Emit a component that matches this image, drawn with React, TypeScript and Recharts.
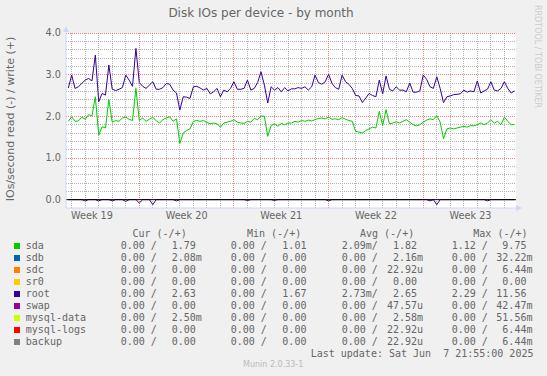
import React from 'react';
import { ComposedChart, Line, XAxis, YAxis, ReferenceLine, ReferenceDot, CartesianGrid } from 'recharts';

// time axis: days counted from the start of Week 20, one sample every 6 hours
const START_DAY = -5.25;
const STEP_DAYS = 0.25;
const X_MIN = -5.42;
const X_MAX = 27.86;
const Y_MIN = -0.2;
const Y_MAX = 4;

// IOs/second written (+)
const sdaWrite = [
  1.88, 1.99, 1.88, 1.89, 1.98, 1.93, 2.04, 2.01, 2.47, 1.55, 1.75, 1.72, 2.40, 1.86, 1.90, 1.88,
  1.96, 1.98, 1.93, 1.90, 2.67, 1.90, 1.96, 1.88, 1.93, 1.98, 1.89, 1.84, 1.92, 1.96, 1.99, 1.88,
  1.94, 1.35, 1.60, 1.66, 1.70, 1.88, 1.90, 1.88, 1.90, 1.85, 1.82, 1.84, 1.82, 1.74, 1.84, 1.86,
  1.88, 1.92, 1.86, 1.84, 1.83, 1.88, 1.86, 1.95, 1.92, 2.01, 2.00, 1.52, 1.78, 1.82, 1.76, 1.83,
  1.80, 1.84, 1.84, 1.88, 1.86, 1.90, 1.88, 1.91, 1.89, 1.92, 1.95, 1.96, 1.94, 1.98, 1.93, 1.94,
  1.92, 1.97, 1.93, 1.90, 1.88, 1.64, 1.62, 1.60, 1.66, 1.70, 1.74, 1.72, 2.12, 1.78, 2.16, 1.82,
  1.84, 1.87, 1.84, 1.88, 1.92, 1.86, 1.80, 1.77, 1.80, 1.86, 1.91, 1.94, 1.92, 2.02, 1.86, 1.46,
  1.70, 1.72, 1.70, 1.72, 1.74, 1.76, 1.74, 1.78, 1.77, 1.80, 1.84, 1.80, 1.84, 1.92, 1.84, 1.88,
  1.80, 1.98, 1.88, 1.80, 1.80,
];

const rootWrite = [
  2.68, 2.99, 2.67, 2.71, 2.79, 2.87, 2.91, 2.85, 3.47, 2.35, 2.55, 2.51, 3.23, 2.65, 2.62, 2.65,
  2.69, 2.99, 2.87, 2.72, 3.63, 2.81, 2.72, 2.67, 2.75, 2.83, 2.65, 2.65, 2.69, 2.79, 2.77, 2.63,
  2.56, 2.15, 2.47, 2.46, 2.43, 2.71, 2.72, 2.68, 2.63, 2.67, 2.54, 2.59, 2.67, 2.47, 2.63, 2.59,
  2.67, 2.83, 2.65, 2.65, 2.67, 2.87, 2.63, 2.67, 2.81, 3.07, 2.75, 2.32, 2.71, 2.63, 2.69, 2.59,
  2.69, 2.61, 2.66, 2.66, 2.69, 2.67, 2.71, 2.63, 2.71, 2.99, 2.81, 2.77, 2.83, 3.01, 2.79, 2.69,
  2.65, 2.99, 2.83, 2.77, 2.67, 2.50, 2.49, 2.33, 2.44, 2.55, 2.50, 2.47, 2.87, 2.54, 2.97, 2.65,
  2.61, 2.71, 2.63, 2.63, 2.59, 2.80, 2.58, 2.58, 2.61, 2.99, 2.89, 2.71, 2.67, 2.95, 2.67, 2.33,
  2.47, 2.49, 2.52, 2.53, 2.54, 2.63, 2.58, 2.61, 2.59, 2.85, 2.56, 2.61, 2.65, 2.83, 2.63, 2.61,
  2.67, 2.83, 2.67, 2.56, 2.61,
];

// IOs/second read (-): sample index and value of the small dips below zero
const rootReadDips: [number, number][] = [
  [5, -0.03], [9, -0.03], [13, -0.03], [17, -0.04], [21, -0.08], [25, -0.12], [32, -0.03],
  [53, -0.02], [61, -0.02], [77, -0.03], [107, -0.03], [109, -0.12], [124, -0.03],
];

const weekTicks = [-3.5, 3.5, 10.5, 17.5, 24.5];
const weekLabels = ['Week 19', 'Week 20', 'Week 21', 'Week 22', 'Week 23'];
const weekStarts = [0, 7, 14, 21];
const yTicks = [0, 1, 2, 3, 4];

const names = ['sda', 'sdb', 'sdc', 'sr0', 'root', 'swap', 'mysql-data', 'mysql-logs', 'backup'];
const colors = ['#00CC00', '#0066B3', '#FF8000', '#FFCC00', '#330099', '#990099', '#CCFF00', '#FF0000', '#808080'];
const curRead = ['0.00', '0.00', '0.00', '0.00', '0.00', '0.00', '0.00', '0.00', '0.00'];
const curWrite = ['1.79', '2.08m', '0.00', '0.00', '2.63', '0.00', '2.50m', '0.00', '0.00'];
const minRead = ['0.00', '0.00', '0.00', '0.00', '0.00', '0.00', '0.00', '0.00', '0.00'];
const minWrite = ['1.01', '0.00', '0.00', '0.00', '1.67', '0.00', '0.00', '0.00', '0.00'];
const avgRead = ['2.09m', '0.00', '0.00', '0.00', '2.73m', '0.00', '0.00', '0.00', '0.00'];
const avgWrite = ['1.82', '2.16m', '22.92u', '0.00', '2.65', '47.57u', '2.58m', '22.92u', '22.92u'];
const maxRead = ['1.12', '0.00', '0.00', '0.00', '2.29', '0.00', '0.00', '0.00', '0.00'];
const maxWrite = ['9.75', '32.22m', '6.44m', '0.00', '11.56', '42.47m', '51.56m', '6.44m', '6.44m'];

const data = sdaWrite.map((v, i) => {
  const dip = rootReadDips.find(d => d[0] === i);
  return { t: START_DAY + i * STEP_DAYS, sda: v, root: rootWrite[i], rootRead: dip ? dip[1] : 0 };
});

const dayLines = Array.from({ length: 33 }, (_, k) => k - 5).filter(d => !weekStarts.includes(d));
const minorY = Array.from({ length: 20 }, (_, k) => Math.round((0.2 + k * 0.2) * 10) / 10).filter(v => !yTicks.includes(v));

const FONT = '#666666';
const AXIS = '#CFD6F8';
const MINOR = '#B4B4B4';
const MAJOR = '#F08080';

// grid positions: x from the plot box (margins + y axis width), y from the y axis scale
const xPix = (p: any, vals: number[]) =>
  vals.map(v => {
    const o = p?.offset ?? { left: 66, width: 450 };
    return Math.round(o.left + ((v - X_MIN) / (X_MAX - X_MIN)) * o.width - 0.5) + 0.5;
  });
const yPix = (p: any, vals: number[]) =>
  vals.map(v => {
    const s = p?.yAxis?.scale;
    const py = typeof s === 'function' ? s(v) : p.offset.top + ((Y_MAX - v) / (Y_MAX - Y_MIN)) * p.offset.height;
    return Math.round(py - 0.5) + 0.5;
  });

// split "2.09m" into number and SI suffix
const splitVal = (s: string) => {
  const m = s.match(/^([\d.]+)(.*)$/);
  return m ? [m[1], m[2]] : [s, ''];
};
const readCell = (s: string) => {
  const [n, u] = splitVal(s);
  return n + (u || ' ') + '/';
};
const writeCell = (s: string) => {
  const [n, u] = splitVal(s);
  return n.padStart(6, ' ') + u;
};

const groups = [
  { head: 'Cur (-/+)', headX: 132.5, readX: 120.7, writeX: 159.7, read: curRead, write: curWrite },
  { head: 'Min (-/+)', headX: 247, readX: 230.7, writeX: 270.3, read: minRead, write: minWrite },
  { head: 'Avg (-/+)', headX: 360, readX: 341.7, writeX: 381, read: avgRead, write: avgWrite },
  { head: 'Max (-/+)', headX: 473.3, readX: 451.7, writeX: 490.3, read: maxRead, write: maxWrite },
];

const mono: React.CSSProperties = {
  position: 'absolute',
  fontFamily: '"DejaVu Sans Mono", monospace',
  fontSize: 10,
  lineHeight: '12px',
  whiteSpace: 'pre',
  color: FONT,
};

const YTick = (props: any) => (
  <text x={props.x} y={props.y} dy="0.355em" textAnchor="end" fontSize={9.7} fontFamily="DejaVu Sans" fill={FONT}>
    {props.payload.value.toFixed(1)}
  </text>
);

const XTick = (props: any) => (
  <text x={props.x} y={props.y} dy="0.71em" textAnchor="middle" fontSize={9.7} fontFamily="DejaVu Sans" fill={FONT}>
    {weekLabels[weekTicks.indexOf(props.payload.value)]}
  </text>
);

const App: React.FC = () => {
  return (
    <div style={{ position: 'absolute', left: 0, top: 0, width: 547, height: 376, background: '#F0F0F0', overflow: 'hidden' }}>
      <ComposedChart width={547} height={376} data={data} margin={{ top: 33, right: 31, left: 0, bottom: 148 }}>
        {/* minor grid: one line per day / every 0.2 */}
        <CartesianGrid
          fill="#FFFFFF"
          stroke={MINOR}
          strokeDasharray="1 1"
          verticalCoordinatesGenerator={(p: any) => xPix(p, dayLines)}
          horizontalCoordinatesGenerator={(p: any) => yPix(p, minorY)}
        />
        {/* major grid: week starts / whole numbers */}
        <CartesianGrid
          stroke={MAJOR}
          strokeDasharray="1 1"
          verticalCoordinatesGenerator={(p: any) => xPix(p, weekStarts)}
          horizontalCoordinatesGenerator={(p: any) => yPix(p, yTicks)}
        />
        <XAxis
          dataKey="t"
          type="number"
          domain={[X_MIN, X_MAX]}
          allowDataOverflow
          ticks={weekTicks}
          tick={<XTick />}
          tickLine={false}
          tickSize={0}
          tickMargin={4}
          height={20}
          axisLine={{ stroke: AXIS }}
        />
        <YAxis
          type="number"
          domain={[Y_MIN, Y_MAX]}
          allowDataOverflow
          ticks={yTicks}
          tick={<YTick />}
          tickLine={false}
          tickSize={0}
          tickMargin={5}
          width={66}
          axisLine={{ stroke: AXIS }}
        />

        <Line type="linear" dataKey="rootRead" stroke="#330099" strokeWidth={1} dot={false} isAnimationActive={false} />
        <Line type="linear" dataKey="sda" stroke="#00CC00" strokeWidth={1} dot={false} isAnimationActive={false} />
        <Line type="linear" dataKey="root" stroke="#330099" strokeWidth={1} dot={false} isAnimationActive={false} />
        <ReferenceLine y={0} stroke="#000000" strokeWidth={1} />

        {/* axis arrows */}
        <ReferenceDot
          x={X_MIN}
          y={Y_MAX}
          ifOverflow="visible"
          shape={(p: any) => (
            <path d={`M${p.cx - 3},${p.cy - 1} L${p.cx},${p.cy - 7} L${p.cx + 3},${p.cy - 1} Z`} fill={AXIS} />
          )}
        />
        <ReferenceDot
          x={X_MAX}
          y={Y_MIN}
          ifOverflow="visible"
          shape={(p: any) => (
            <path d={`M${p.cx},${p.cy - 3} L${p.cx + 6},${p.cy} L${p.cx},${p.cy + 3} Z`} fill={AXIS} />
          )}
        />
      </ComposedChart>

      <svg width={547} height={376} style={{ position: 'absolute', left: 0, top: 0, pointerEvents: 'none' }}>
        <text x={261} y={17.3} textAnchor="middle" fontFamily="DejaVu Sans" fontSize={12} fill={FONT}>
          Disk IOs per device - by month
        </text>
        <text transform="translate(14.3,119) rotate(-90)" textAnchor="middle" fontFamily="DejaVu Sans" fontSize={11} fill={FONT}>
          IOs/second read (-) / write (+)
        </text>
        <text transform="translate(535,5) rotate(90)" textAnchor="start" fontFamily="DejaVu Sans" fontSize={8} fill="#CCCCCC">
          RRDTOOL / TOBI OETIKER
        </text>
        <text x={273.2} y={367.2} textAnchor="middle" fontFamily="DejaVu Sans" fontSize={8} fill="#BBBBBB">
          Munin 2.0.33-1
        </text>
      </svg>

      {groups.map(g => (
        <div key={g.head} style={{ ...mono, left: g.headX, top: 227.5 }}>{g.head}</div>
      ))}
      {names.map((n, k) => {
        const top = 239.5 + k * 12;
        return (
          <React.Fragment key={n}>
            <div style={{ position: 'absolute', left: 14, top: top + 3, width: 6, height: 6, background: colors[k] }} />
            <div style={{ ...mono, left: 25.8, top }}>{n}</div>
            {groups.map(g => (
              <React.Fragment key={g.head}>
                <div style={{ ...mono, left: g.readX, top }}>{readCell(g.read[k])}</div>
                <div style={{ ...mono, left: g.writeX, top }}>{writeCell(g.write[k])}</div>
              </React.Fragment>
            ))}
          </React.Fragment>
        );
      })}
      <div style={{ ...mono, left: 310.7, top: 347.5 }}>Last update: Sat Jun  7 21:55:00 2025</div>
    </div>
  );
};

export default App;
